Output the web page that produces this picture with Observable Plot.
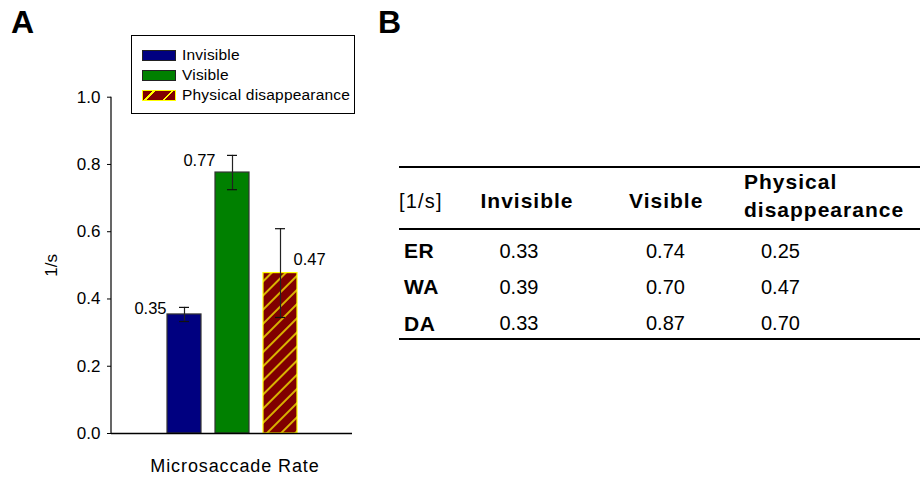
<!DOCTYPE html>
<html>
<head>
<meta charset="utf-8">
<script src="https://cdn.jsdelivr.net/npm/d3@7"></script>
<script src="https://cdn.jsdelivr.net/npm/@observablehq/plot@0.6"></script>
<style>
  body { margin: 0; background: #fff; font-family: "Liberation Sans", Arial, Helvetica, sans-serif; color: #000; }
  #fig { position: relative; width: 920px; height: 477px; overflow: hidden; background: #fff; }
  .panel { position: absolute; font-weight: bold; font-size: 32px; line-height: 32px; }
  #chartA { position: absolute; left: 0; top: 0; }
  #legend { position: absolute; left: 131px; top: 35px; width: 224px; height: 79px; box-sizing: border-box;
            border: 1px solid #000; background: #fff; padding: 9px 0 0 10px; }
  .lrow { display: flex; align-items: center; height: 20px; font-size: 15.5px; letter-spacing: 0.2px; }
  .sw { width: 34px; height: 11px; box-sizing: border-box; border: 1px solid #222; margin-right: 6px; flex: none; }
  #tbl { position: absolute; left: 399px; top: 166px; width: 521px; border-collapse: collapse; table-layout: fixed;
         border-top: 2px solid #000; border-bottom: 2px solid #000; color: #000; }
  #tbl th { font-weight: bold; font-size: 21px; letter-spacing: 1px; text-align: left; padding: 5px 0 0 0;
            vertical-align: middle; line-height: 28px; border-bottom: 2px solid #000; }
  #tbl thead tr { height: 62px; }
  #tbl th.unit { font-weight: normal; font-size: 20px; letter-spacing: 1.2px; }
  #tbl th.two { padding: 0 0 4px 0; }
  #tbl tbody tr { height: 36.67px; }
  #tbl td { font-size: 20px; padding: 7px 0 0 17px; vertical-align: middle; white-space: nowrap; }
  #tbl td.subj { font-weight: bold; font-size: 21px; letter-spacing: 0.6px; padding-left: 5px; }
  #tbl td.c1 { padding-left: 19px; }
</style>
</head>
<body>
<div id="fig">
  <div class="panel" style="left:11px; top:6px;">A</div>
  <div class="panel" style="left:378px; top:6px;">B</div>
  <div id="chartA"></div>
</div>
<script>
// ---------- data (panel A) ----------
const conditions = ["Invisible", "Visible", "Physical disappearance"];
const rates = [0.354, 0.776, 0.477];
const errors = [0.021, 0.051, 0.132];
const rateLabels = ["0.35", "0.77", "0.47"];
const yTicks = [0, 0.2, 0.4, 0.6, 0.8, 1.0];
const yLabel = "1/s";
const xTitle = "Microsaccade Rate";

// ---------- data (panel B) ----------
const tableColumns = ["[1/s]", "Invisible", "Visible", "Physical disappearance"];
const subjects = ["ER", "WA", "DA"];
const invisibleBySubject = [0.33, 0.39, 0.33];
const visibleBySubject = [0.74, 0.70, 0.87];
const physicalBySubject = [0.25, 0.47, 0.70];

// ---------- styles ----------
const fills = {"Invisible": "#000080", "Visible": "#008000", "Physical disappearance": "url(#hatchPD)"};
const strokes = {"Invisible": "#333", "Visible": "#333", "Physical disappearance": "#ffff00"};
const swatchCss = {
  "Invisible": "background:#000080;",
  "Visible": "background:#008000;",
  "Physical disappearance": "border-color:#ffff00; background: repeating-linear-gradient(135deg, #800000 0px, #800000 7px, #ffff00 7px, #ffff00 8.5px, #800000 8.5px, #800000 13px);"
};

const bars = conditions.map((c, i) => ({
  condition: c, rate: rates[i], lo: rates[i] - errors[i], hi: rates[i] + errors[i], label: rateLabels[i]
}));

const hatchDefs = () => {
  const defs = d3.create("svg:defs");
  const p = defs.append("pattern").attr("id", "hatchPD").attr("patternUnits", "userSpaceOnUse")
    .attr("width", 10).attr("height", 10).attr("patternTransform", "rotate(45)");
  p.append("rect").attr("width", 10).attr("height", 10).attr("fill", "#800000");
  p.append("line").attr("x1", 5).attr("x2", 5).attr("y1", 0).attr("y2", 10)
    .attr("stroke", "#ffff00").attr("stroke-width", 1.4);
  return defs.node();
};

const yAxisLine = (index, scales, values, dims) => {
  return d3.create("svg:line")
    .attr("x1", dims.marginLeft).attr("x2", dims.marginLeft)
    .attr("y1", scales.y(0)).attr("y2", scales.y(1))
    .attr("stroke", "#000").attr("stroke-width", 1.2).node();
};

const chart = Plot.plot({
  width: 370, height: 477,
  marginLeft: 111, marginRight: 18, marginTop: 96.7, marginBottom: 44,
  style: {fontFamily: "'Liberation Sans', Arial, sans-serif", fontSize: "17px", color: "#000", background: "transparent", overflow: "visible"},
  color: {type: "identity"},
  x: {type: "band", domain: conditions, range: [153, 311], padding: 0.29, axis: null},
  y: {domain: [0, 1], ticks: yTicks, tickFormat: d3.format(".1f"), tickSize: 4, tickPadding: 7,
      label: yLabel, labelAnchor: "center", labelOffset: 67, labelArrow: "none"},
  marks: [
    hatchDefs,
    Plot.barY(bars, {x: "condition", y: "rate", fill: d => fills[d.condition], stroke: d => strokes[d.condition], strokeWidth: 1.2}),
    Plot.ruleX(bars, {x: "condition", y1: "lo", y2: "hi", stroke: "#222", strokeWidth: 1.2}),
    Plot.tickY(bars, {x: "condition", y: "lo", insetLeft: 12, insetRight: 12, stroke: "#111", strokeWidth: 1.2}),
    Plot.tickY(bars, {x: "condition", y: "hi", insetLeft: 12, insetRight: 12, stroke: "#111", strokeWidth: 1.2}),
    Plot.text(bars, {filter: d => d.condition === "Invisible", x: "condition", y: "rate", text: "label", textAnchor: "end", lineAnchor: "bottom", dx: -18, dy: 0, fontSize: 16.5}),
    Plot.text(bars, {filter: d => d.condition === "Visible", x: "condition", y: "rate", text: "label", textAnchor: "end", lineAnchor: "bottom", dx: -17, dy: -7, fontSize: 16.5}),
    Plot.text(bars, {filter: d => d.condition === "Physical disappearance", x: "condition", y: "rate", text: "label", textAnchor: "start", lineAnchor: "bottom", dx: 13, dy: -8, fontSize: 16.5}),
    Plot.ruleY([0], {stroke: "#000", strokeWidth: 1.3}),
    yAxisLine,
    Plot.text([xTitle], {text: d => d, frameAnchor: "bottom", lineAnchor: "bottom", dx: 3, dy: 38.7, fontSize: 18})
  ]
});
d3.select(chart).selectAll("text").filter(function() { return this.textContent === xTitle; }).attr("letter-spacing", "0.9px");
document.getElementById("chartA").appendChild(chart);

// legend
const legend = d3.select("#fig").append("div").attr("id", "legend");
const rows = legend.selectAll("div").data(conditions).join("div").attr("class", "lrow");
rows.append("div").attr("class", "sw").attr("style", d => swatchCss[d]);
rows.append("span").text(d => d);

// table
const tbl = d3.select("#fig").append("table").attr("id", "tbl");
const colWidths = [81.5, 148.5, 115, 176];
tbl.append("colgroup").selectAll("col").data(colWidths).join("col").style("width", d => d + "px");
tbl.append("thead").append("tr").selectAll("th").data(tableColumns).join("th")
  .attr("class", (d, i) => i === 0 ? "unit" : (i === 3 ? "two" : null))
  .text(d => d);
const tableRows = subjects.map((s, i) => [s, invisibleBySubject[i], visibleBySubject[i], physicalBySubject[i]]);
tbl.append("tbody").selectAll("tr").data(tableRows).join("tr")
  .selectAll("td").data(r => r).join("td")
  .attr("class", (d, i) => i === 0 ? "subj" : "c" + i)
  .text((d, i) => i === 0 ? d : d3.format(".2f")(d));
</script>
</body>
</html>
